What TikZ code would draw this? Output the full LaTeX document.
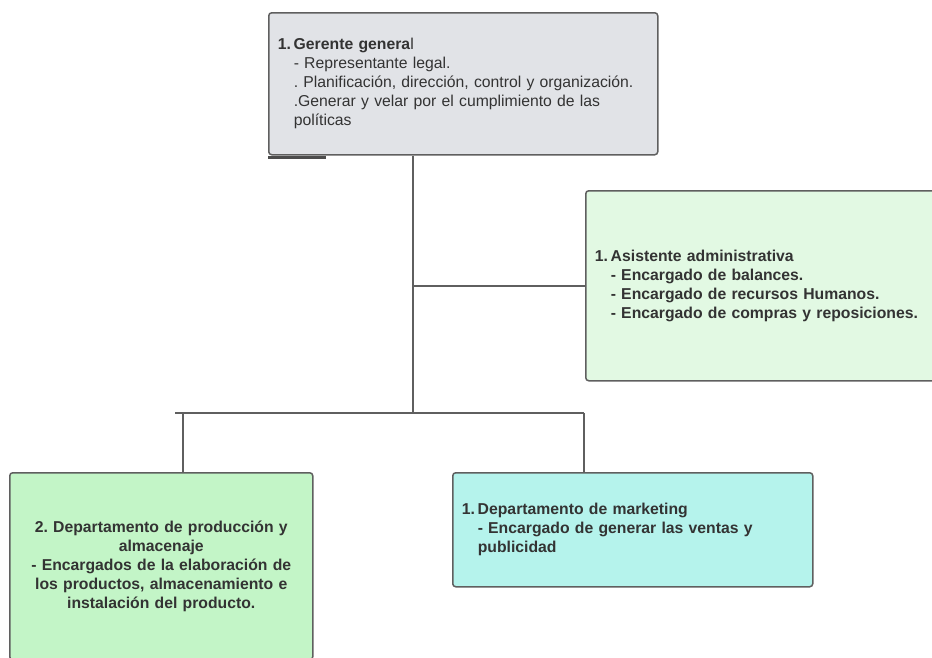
\documentclass[tikz,border=0pt]{standalone}
\usepackage{fontspec}
\setmainfont{Liberation Sans}
\usetikzlibrary{positioning}
\usetikzlibrary{calc}

\definecolor{txtgray}{HTML}{333333}
\definecolor{linegray}{HTML}{5F5F5F}
\definecolor{boxgray}{HTML}{E1E3E7}
\definecolor{boxpale}{HTML}{E2F9E3}
\definecolor{boxgreen}{HTML}{C3F5C7}
\definecolor{boxcyan}{HTML}{B5F3EC}

% list label and hanging indent
\newcommand{\lbl}[1]{\makebox[16pt][l]{\textbf{#1}}}
\newcommand{\ind}{\hspace*{16pt}}

\tikzset{
  unit/.style={draw=linegray, line width=1.5pt, rounded corners=3pt,
    anchor=north west, inner xsep=9pt, inner ysep=0pt, text=txtgray,
    font=\fontsize{15.75}{19}\selectfont\frenchspacing},
  link/.style={draw=linegray, line width=1.8pt}
}

\begin{document}
\begin{tikzpicture}[x=1pt,y=-1pt]

\useasboundingbox (0,0) rectangle (932,657);

% the boxes
\node[unit, fill=boxgray, text width=371pt, minimum height=142pt, align=left]
  (gerente) at (268,12)
  {\lbl{1.}\textbf{Gerente genera}l\\
   \ind- Representante legal.\\
   \ind. Planificación, dirección, control y organización.\\
   \ind.Generar y velar por el cumplimiento de las\\
   \ind políticas};

\node[unit, fill=boxpale, text width=332pt, minimum height=190pt, align=left]
  (asistente) at (585,190)
  {\lbl{1.}\textbf{Asistente administrativa}\\
   \ind\textbf{- Encargado de balances.}\\
   \ind\textbf{- Encargado de recursos Humanos.}\\
   \ind\textbf{- Encargado de compras y reposiciones.}};

\node[unit, fill=boxgreen, text width=285pt, minimum height=187pt, align=center,
  font=\fontsize{15.75}{19}\selectfont\frenchspacing\bfseries]
  (produccion) at (9,472)
  {2. Departamento de producción y\\
   almacenaje\\
   - Encargados de la elaboración de\\
   los productos, almacenamiento e\\
   instalación del producto.};

\node[unit, fill=boxcyan, text width=342pt, minimum height=114pt, align=left]
  (marketing) at (452,472)
  {\lbl{1.}\textbf{Departamento de marketing}\\
   \ind\textbf{- Encargado de generar las ventas y}\\
   \ind\textbf{publicidad}};

% short dark stroke under the top box
\draw[line width=2.5pt, draw=linegray!80!black]
  ([yshift=-2pt]gerente.south west) -- ++(58,0);

% junctions
\coordinate (bus) at (413,413);
\coordinate (busL) at (175,413);
\coordinate (busR) at (584,413);
\coordinate (dropL) at (183,413);

% connectors
\draw[link] (gerente.south -| bus) -- (bus);
\draw[link] (bus |- asistente.west) -- (asistente.west);
\draw[link] (busL) -- (busR);
\draw[link] (dropL) -- (dropL |- produccion.north);
\draw[link] (busR) -- (busR |- marketing.north);

\end{tikzpicture}
\end{document}
